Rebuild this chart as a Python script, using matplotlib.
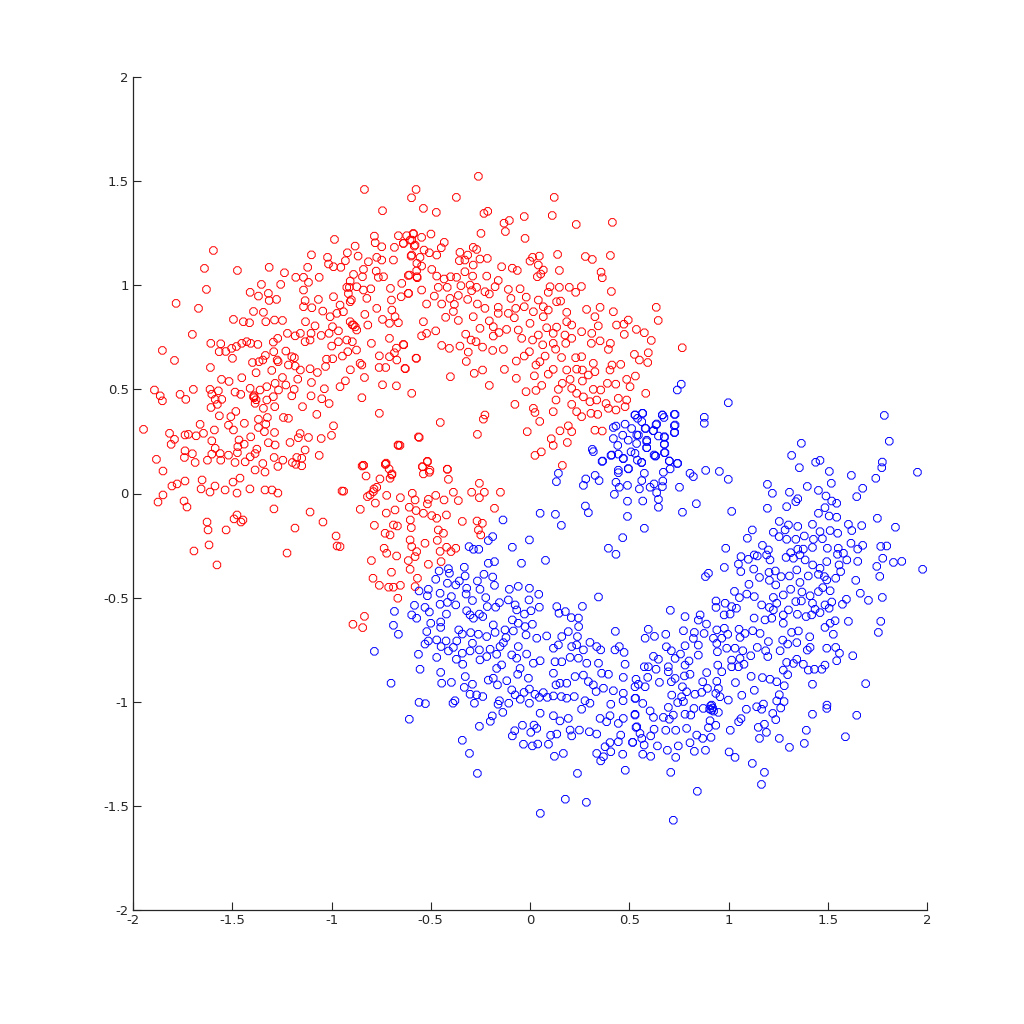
import matplotlib
matplotlib.use("Agg")
import matplotlib.pyplot as plt

red_points = [
(-.834,1.46),(-.743,1.358),(-.574,1.46),(-.597,1.42),(-1.595,1.167),(-1.64,1.081),(-1.474,1.071),(-1.314,1.086),(-1.237,1.06),(-1.63,.98),(-1.353,1.004),(-1.256,1.004),(-1.783,.913),(-1.67,.889),(-1.41,.966),(-1.368,.948),(-1.318,.961),(-1.314,.927),(-1.277,.932),(-1.393,.874),(-1.343,.87),(-1.494,.836),(-1.444,.825),(-1.413,.82),(-1.331,.825),(-1.287,.833),(-1.247,.831),(-1.701,.764),(-1.608,.721),(-1.852,.687),(-1.791,.639),(-1.566,.681),(-1.558,.719),(-1.533,.682),(-1.503,.697),(-1.479,.706),(-1.452,.721),(-1.427,.729),(-1.407,.721),(-1.371,.716),(-1.499,.649),(-1.61,.605),(-1.398,.629),(-1.365,.633),(-1.346,.641),(-1.38,.58),(-1.333,.663),(-1.291,.681),(-1.23,.684),(-1.2,.657),(-1.187,.652),(-1.274,.641),(-1.269,.633),(-1.217,.617),(-1.183,.612),(-1.157,.593),(-1.108,.599),(-1.071,.581),(-1.03,.61),(-1.025,.645),(-.994,.647),(-.945,.66),(-.918,.681),(-.874,.689),(-.856,.625),(-.847,.617),(-.905,.594),(-.834,.557),(-.743,.522),(-.673,.517),(-.628,.599),(-.727,.605),(-.76,.605),(-.759,.661),(-.708,.657),(-.683,.676),(-.671,.641),(-.673,.698),(-.636,.714),(-.572,.649),(-.708,.745),(-.799,.721),
(-1.293,.727),(-1.271,.745),(-1.222,.769),(-1.183,.757),(-1.157,.769),(-1.133,.729),(-1.108,.737),(-1.103,.769),(-1.052,.759),(-1.012,.769),(-.995,.801),(-.965,.781),(-.999,.708),(-.965,.729),(-.923,.737),(-.895,.729),(-.873,.785),(-.889,.809),(-.906,.825),(-.817,.809),(-.832,.86),(-.772,.889),(-.743,.836),(-.708,.817),(-.68,.849),(-.663,.82),(-.696,.881),(-.698,.929),(-.703,.985),(-.646,1.009),(-.612,.961),(-.649,.945),(-.738,1.041),(-.764,1.038),(-.775,1.068),(-.747,1.121),(-.772,1.134),(-.814,1.113),(-.839,1.076),(-.844,1.041),(-.889,1.052),(-.923,.99),(-.873,.993),(-.839,.977),(-.802,.983),(-.822,.937),(-.906,1.02),(-.906,.921),(-.99,.945),(-.957,.905),(-.94,.873),(-.973,.865),(-1.007,.849),(-1.044,.876),(-1.066,.932),(-1.099,.892),(-1.083,.805),(-1.131,.825),(-1.141,.897),(-1.133,.926),(-1.141,.977),(-1.116,1.014),(-1.18,1.038),(-1.141,1.038),(-1.062,1.038),(-1.12,1.086),(-1.101,1.146),(-1.02,1.134),(-1.015,1.102),(-.99,1.089),(-.953,1.086),(-.93,1.118),(-.92,1.156),(-.881,1.188),(-.866,1.14),(-.985,1.22),(-.784,1.236),(-.78,1.204),(-.747,1.185),(-.683,1.182),(-.688,1.121),(-.663,1.238),(-.638,1.201),(-.621,1.238),(-.587,1.246),(-.604,1.217),(-.579,1.193),(-.599,1.14),(-.57,1.105),(-.607,1.049),(-.57,1.041),
(-1.452,.556),(-1.516,.538),(-1.554,.548),(-1.696,.5),(-1.892,.497),(-1.863,.469),(-1.852,.445),(-1.763,.476),(-1.734,.452),(-1.612,.5),(-1.57,.493),(-1.603,.477),(-1.586,.452),(-1.553,.452),(-1.607,.413),(-1.575,.428),(-1.486,.487),(-1.457,.476),(-1.41,.505),(-1.393,.465),(-1.36,.497),(-1.326,.513),(-1.284,.529),(-1.267,.497),(-1.23,.521),(-1.188,.5),(-1.2,.469),(-1.103,.469),(-1.101,.533),(-1.036,.503),(-1.049,.455),(-1.012,.432),(-.957,.513),(-.93,.541),(-1.17,.549),(-1.247,.557),(-1.301,.591),(-1.074,.38),(-1.146,.417),(-1.286,.417),(-1.343,.409),(-1.385,.433),(-1.326,.449),(-1.293,.465),(-1.482,.394),(-1.507,.369),(-1.565,.373),(-1.368,.356),(-1.323,.365),(-1.242,.365),(-1.217,.361),(-.847,.46),(-.759,.385),(-.596,.481),(-.562,.272),(-.663,.231),(-.99,.325),(-1.0,.279),(-1.052,.264),(-1.116,.269),(-1.158,.288),(-1.167,.268),(-1.209,.245),(-1.287,.293),(-1.331,.333),(-1.368,.317),(-1.439,.337),(-1.494,.305),(-1.519,.328),(-1.59,.305),(-1.662,.332),(-1.645,.289),(-1.682,.277),(-1.721,.284),(-1.738,.281),(-1.816,.289),(-1.791,.26),(-1.808,.236),(-1.947,.308),(-1.603,.253),(-1.586,.217),(-1.466,.257),(-1.472,.225),(-1.44,.237),(-1.407,.272),(-1.376,.213),(-1.338,.297),(-1.318,.244),(-1.284,.233),(-1.133,.209),(-1.062,.183),(-1.882,.164),(-1.738,.205),(-1.741,.173),(-1.701,.191),(-1.687,.149),(-1.625,.16),(-1.603,.189),(-1.561,.192),(-1.558,.16),(-1.519,.184),(-1.486,.149),(-1.474,.196),(-1.435,.152),(-1.41,.176),(-1.385,.192),(-1.346,.144),(-1.289,.173),(-1.245,.16),(-1.197,.149),(-1.175,.173),(-1.15,.169),(-1.15,.133),(-.839,.136),(-.727,.141),
(-.26,1.523),(-.371,1.422),(.122,1.422),(-.537,1.369),(-.472,1.35),(-.232,1.345),(-.213,1.355),(-.029,1.33),(.112,1.335),(-.131,1.298),(-.104,1.311),(.233,1.292),(.415,1.302),(-.124,1.258),(-.247,1.249),(-.025,1.225),(-.588,1.249),(-.546,1.23),(-.499,1.246),(-.638,1.201),(-.596,1.217),(-.583,1.188),(-.432,1.206),(-.447,1.18),(-.286,1.182),(-.269,1.172),(-.353,1.158),(-.314,1.145),(-.534,1.169),(-.507,1.156),(-.596,1.145),(-.554,1.134),(-.47,1.145),(-.356,1.118),(-.328,1.121),(-.286,1.097),(-.252,1.126),(-.215,1.129),(-.143,1.089),(-.089,1.082),(-.064,1.071),(0,1.116),(.013,1.134),(.047,1.14),(.139,1.148),(.279,1.138),(.314,1.124),(.405,1.143),(.042,1.097),(.067,1.073),(.148,1.071),(.358,1.063),(.364,1.036),(.037,1.041),(.054,1.054),
(-.546,1.092),(-.571,1.07),(-.613,1.047),(-.568,1.036),(-.495,1.076),(-.47,1.044),(-.433,1.03),(-.4,1.041),(-.37,1.038),(-.328,1.065),(-.289,1.044),(-.218,1.044),(-.16,1.023),(-.348,.998),(-.302,1.001),(-.269,.99),(-.176,.993),(-.109,.98),(-.05,.983),(.101,.993),(.148,.99),(.198,.99),(.259,.994),(.23,.966),(.092,.966),(.41,.97),(-.019,.943),(-.096,.937),(-.205,.958),(-.227,.969),(-.294,.974),(-.361,.951),(-.403,.937),(-.482,.948),(-.462,.99),(-.417,.99),(-.546,.977),(-.613,.961),(-.445,.91),(-.521,.91),(-.314,.932),(-.265,.91),(-.381,.908),(-.386,.874),(-.425,.846),(-.361,.831),(-.227,.889),(-.16,.894),(-.16,.865),(-.109,.865),(-.072,.889),(-.029,.897),(-.079,.844),(.017,.873),(.042,.929),(.067,.897),(.134,.921),(.154,.924),(.092,.881),(.185,.87),(.285,.884),(.353,.894),(.42,.873),(.636,.894),(.646,.831),(.327,.849),(.344,.805),(.185,.825),(.21,.809),(.134,.799),(.067,.849),(.084,.796),(0,.817),(-.059,.785),(-.118,.788),(-.156,.773),(-.205,.829),(-.185,.801),(-.185,.756),(-.252,.793),(-.286,.849),(-.324,.765),(-.297,.737),(-.272,.729),(-.239,.703),(-.188,.687),(-.134,.692),(-.445,.711),(-.406,.697),(-.353,.708),(-.311,.679),(-.321,.634),(-.475,.781),(-.521,.769),(-.546,.757),(-.537,.825),(-.638,.716),(-.574,.65),(-.63,.601),(-.401,.561),(-.281,.577),(-.239,.593),(-.205,.519),(-.129,.596),(-.069,.636),(-.029,.66),(-.003,.681),(-.042,.745),(.013,.737),(.042,.761),(.064,.714),(.117,.769),(.117,.721),(.129,.693),(.176,.761),(.18,.721),(.21,.745),(.26,.777),(.311,.769),(.309,.721),(.353,.733),(.405,.721),(.395,.692),(.475,.764),(.436,.809),(.473,.813),(.495,.833),(.536,.788),(.576,.772),(.611,.735),(.767,.7),(.526,.668),(.551,.641),(.596,.676),(.593,.629),(.457,.62),(.413,.617),(.319,.625),(.23,.652),(.26,.657),(.159,.653),(.076,.66),(.05,.633),(.03,.617),(.022,.565),(-.069,.553),(.092,.573),(.117,.596),(.185,.593),(.235,.597),(.264,.593),(.327,.585),(.403,.593),(.202,.548),(.163,.529),(.264,.54),(.294,.569),(.39,.529),(.432,.525),(.487,.548),(.531,.564),(.504,.513),(.319,.5),(.356,.497),(.21,.505),(.143,.5),(.059,.519),(.03,.495),(-.02,.489),(-.076,.428),(.131,.449),(.21,.428),(.269,.464),(.336,.449),(.302,.441),(.235,.481),(.383,.432),(.445,.457),(.487,.449),(.479,.417),(.583,.481),(.395,.409),(.433,.401),(.235,.393),(.26,.369),(.307,.385),(.341,.38),(.117,.393),(.017,.409),(.025,.389),(.049,.346),(-.227,.377),(-.235,.357),(-.452,.341),(-.265,.284),(-.014,.297),(.193,.325),(.151,.301),(.21,.297),(.327,.304),(.364,.3),(.107,.263),(.188,.245),(.117,.231),(.057,.2),(.025,.183),(-.558,.269),(-.655,.231),(-.517,.152),(-.541,.128),(-.504,.112),(-.417,.117),(.163,.135),
(-.839,.135),(-.729,.14),(-.542,.129),(-.517,.155),(-.416,.116),(-.697,.089),(-.705,.073),(-.507,.102),(-.537,.094),(-.411,.068),(-.255,.049),(-.939,.011),(-.772,.03),(-.789,.009),(-.819,-.015),(-.722,-.009),(-.653,-.02),(-.593,.001),(-.579,-.031),(-.475,-.009),(-.512,-.028),(-.433,-.031),(-.386,.006),(-.361,-.034),(-.294,.006),(-.23,.006),(-.255,-.02),(-.149,.006),(-.779,-.046),(-.855,-.076),(-.724,-.094),(-.68,-.079),(-.608,-.066),(-.574,-.082),(-.517,-.05),(-.537,-.095),(-.495,-.106),(-.47,-.119),(-.421,-.103),(-.179,-.071),(-.341,-.134),(-.267,-.132),(-.24,-.143),(-.784,-.153),(-.688,-.151),(-.668,-.156),(-.603,-.127),(-.598,-.164),(-.73,-.191),(-.705,-.199),(-.462,-.175),(-.436,-.191),(-.26,-.175),(-.248,-.199),(-.604,-.223),(-.467,-.225),(-.529,-.239),(-.735,-.263),(-.722,-.287),(-.672,-.3),(-.596,-.255),(-.571,-.279),(-.579,-.303),(-.453,-.278),(-.42,-.258),(-.374,-.263),(-.398,-.279),(-.799,-.322),(-.613,-.322),(-.512,-.34),(-.448,-.327),(-.604,-.364),(-.698,-.378),(-.791,-.407),(-.759,-.441),(-.712,-.45),(-.688,-.45),(-.653,-.441),(-.567,-.407),(-.579,-.447),(-.666,-.503),(-.834,-.59),(-.892,-.628),(-.843,-.644),(-.957,-.255),
(-1.874,-.041),(-1.849,-.007),(-1.849,.108),(-1.738,.06),(-1.804,.036),(-1.778,.046),(-1.743,-.036),(-1.728,-.065),(-1.693,-.276),(-1.617,-.247),(-1.622,-.175),(-1.577,-.343),(-1.627,-.137),(-1.531,-.175),(-1.491,-.122),(-1.456,-.137),(-1.476,-.103),(-1.446,-.127),(-1.657,.022),(-1.612,.007),(-1.652,.065),(-1.587,.036),(-1.536,.017),(-1.496,.055),(-1.461,.074),(-1.411,.022),(-1.476,.002),(-1.335,.017),(-1.3,.017),(-1.27,.002),(-1.29,-.074),(-1.335,.103),(-1.385,.113),(-1.184,-.166),(-1.224,-.286),(-1.108,-.089),(-1.043,-.137),(-.977,-.204),(-.972,-.252),(-.947,.012),(-1.18,.14),(-1.27,.13),(-.846,.132),(-.725,.146),(-.71,.118),(-.665,.233),(-.756,.07),(-.826,.084),(-.786,.022),(-.806,-.007),(-.695,.094),
(-.91,.99),(-.915,.96),(-.9,.93),(-.895,.81),(-.88,.8),(-1.39,.46),(-1.39,.47),(-1.38,.45),
]

blue_points = [
(-.784,-.758),(-.688,-.633),(-.663,-.676),(-.683,-.566),(-.582,-.537),(-.596,-.583),(-.571,-.599),(-.559,-.468),(-.512,-.46),(-.517,-.491),(-.475,-.412),(-.458,-.372),(-.411,-.361),(-.406,-.383),(-.453,-.479),(-.416,-.431),(-.374,-.439),(-.396,-.495),(-.416,-.523),(-.374,-.535),(-.453,-.532),(-.529,-.547),(-.507,-.569),(-.421,-.579),(-.5,-.623),(-.45,-.617),(-.45,-.643),(-.52,-.663),(-.554,-.844),(-.562,-.772),(-.7,-.911),(-.559,-1.003),(-.527,-1.009),(-.608,-1.084),(-.512,-.708),(-.529,-.723),(-.47,-.703),(-.448,-.735),(-.423,-.708),(-.369,-.708),(-.411,-.756),(-.386,-.739),(-.47,-.787),(-.371,-.796),(-.341,-.767),(-.339,-.82),(-.45,-.859),(-.445,-.911),(-.396,-.907),(-.326,-.879),(-.331,-.931),(-.29,-.916),(-.302,-.964),(-.269,-.967),(-.238,-.975),(-.28,-1.007),(-.378,-.995),(-.388,-1.007),(-.341,-1.185),(-.305,-1.248),(-.265,-1.344),(-.255,-1.118),(-.2,-1.094),(-.19,-1.068),(-.137,-1.051),(-.161,-1.012),(-.107,-1.007),(-.154,-.995),(-.21,-.896),(-.185,-.887),(-.164,-.919),(-.117,-.899),(-.092,-.943),(-.075,-.967),(-.049,-.988),(-.003,-1.007),(-.03,-.955),(-.003,-.939),(.025,-.964),(.047,-.979),(.067,-.956),(.087,-.979),(.118,-.972),(.158,-.975),(.185,-.983),(.223,-.975),(.277,-.995),(.302,-1.007),(.333,-.951),(.37,-.935),(.407,-1.012),(.47,-.959),(.469,-.995),(.532,-.983),(.529,-.928),(.47,-.883),(.42,-.947),(.26,-1.036),(.051,-1.055),(.118,-1.067),(.151,-1.092),(.193,-1.08),(.202,-1.136),(.249,-1.136),(.299,-1.144),(.336,-1.155),(.353,-1.08),(.386,-1.096),(.403,-1.067),(.445,-1.104),(.47,-1.08),(.529,-1.064),(.538,-1.12),(.457,-1.16),(.445,-1.192),(.517,-1.195),(.403,-1.196),(.378,-1.216),(.407,-1.24),(.336,-1.248),(.37,-1.264),(.356,-1.284),(.467,-1.252),(.48,-1.329),(.239,-1.344),(.168,-1.248),(.123,-1.262),(.093,-1.204),(.135,-1.155),(.104,-1.161),(.21,-1.164),(.039,-1.203),(.012,-1.212),(-.033,-1.204),(.004,-1.147),(.034,-1.128),(.02,-1.112),(-.038,-1.113),(-.077,-1.139),(-.089,-1.164),(.178,-1.468),(.284,-1.483),(.052,-1.536),
(-.331,-.354),(-.327,-.396),(-.356,-.42),(-.319,-.455),(-.322,-.483),(-.29,-.514),(-.265,-.42),(-.252,-.46),(-.232,-.388),(-.188,-.401),(-.179,-.441),(-.21,-.335),(-.179,-.327),(-.223,-.5),(-.215,-.543),(-.319,-.563),(-.302,-.583),(-.285,-.599),(-.255,-.579),(-.238,-.591),(-.173,-.546),(-.154,-.524),(-.104,-.46),(-.059,-.446),(-.003,-.455),(.044,-.484),(-.005,-.511),(-.109,-.511),(-.075,-.535),(-.067,-.559),(-.028,-.579),(.005,-.563),(.047,-.546),(-.089,-.607),(-.059,-.623),(.012,-.628),(-.025,-.639),(-.185,-.631),(-.176,-.667),(-.359,-.655),(-.341,-.675),(-.299,-.668),(-.26,-.676),(-.218,-.687),(-.126,-.655),(-.084,-.66),(-.121,-.692),(-.134,-.716),(-.151,-.735),(-.29,-.719),(-.302,-.756),(-.255,-.751),(-.201,-.748),(-.168,-.772),(-.092,-.775),(-.059,-.735),(-.02,-.679),(.034,-.695),(.084,-.684),(-.252,-.799),(-.218,-.783),(-.143,-.823),(-.168,-.84),(-.067,-.791),(-.05,-.84),(-.062,-.868),(-.017,-.771),(-.008,-.887),(.017,-.815),(.051,-.803),(.118,-.743),(.126,-.808),(.118,-.863),(.131,-.919),(.151,-.911),(.185,-.911),(.16,-.808),(.143,-.727),(.16,-.687),(.193,-.663),(.239,-.687),(.235,-.727),(.21,-.735),(.202,-.787),(.244,-.791),(.286,-.815),(.269,-.751),(.302,-.715),(.336,-.735),(.356,-.751),(.345,-.815),(.227,-.879),(.269,-.872),(.294,-.903),(.319,-.919),(.361,-.863),(.395,-.868),(.479,-.82),(.428,-.751),(.45,-.735),(.474,-.763),(.43,-.662),(.264,-.542),(.345,-.497),(.135,-.543),(.146,-.575),(.178,-.567),(.208,-.596),(.244,-.598),(.245,-.639),(-.003,-.223),(-.089,-.258),(-.043,-.335),(.078,-.321),(-.136,-.127),(-.21,-.226),(-.188,-.207),(-.307,-.255),(-.285,-.268),(-.258,-.268),(.051,-.095),(.128,-.1),(.158,-.153),(.467,-.212),(.395,-.263),(.433,-.292),(.491,-.11),(.491,-.037),(.294,-.092),(.279,-.06),(.143,.097),(.133,.057),(.269,.039),(.281,.07),(.328,.087),(.348,.062),(.433,.054),(.45,.03),(.425,-.004),(.491,.039),(.445,.1),(.366,.156),(.412,.185),(.47,.169),(.319,.201),(.496,.118),
(.999,.436),(1.785,.375),(1.81,.251),(1.367,.241),(1.318,.183),(1.439,.15),(1.461,.159),(1.357,.124),(1.508,.106),(1.619,.087),(1.742,.073),(1.772,.124),(1.775,.151),(1.952,.102),(.529,.377),(.568,.385),(.667,.377),(.731,.38),(.878,.366),(.878,.337),(.731,.329),(.729,.294),(.638,.334),(.563,.345),(.622,.302),(.58,.313),(.647,.276),(.677,.273),(.677,.236),(.588,.249),(.588,.22),(.538,.281),(.63,.18),(.677,.196),(.563,.15),(.529,.193),(.702,.156),(.744,.145),(.706,.118),(.672,.102),(.576,.097),(.563,.062),(.806,.097),(.823,.081),(.885,.111),(.954,.106),(.999,.068),(.753,.03),(.669,.06),(.667,.033),(.625,.046),(.605,.03),(.638,.004),(.551,.022),(.568,-.036),(.647,-.028),(.647,-.066),(.768,-.09),(.838,-.049),(1.016,-.086),(.576,-.167),
(1.196,.044),(1.221,.001),(1.307,.006),(1.339,-.039),(1.349,-.025),(1.397,.034),(1.453,.015),(1.518,.049),(1.491,-.012),(1.52,-.036),(1.545,-.047),(1.486,-.068),(1.453,-.095),(1.507,-.108),(1.545,-.114),(1.676,.025),(1.646,-.015),(1.75,-.119),(1.841,-.162),(1.671,-.154),(1.604,-.148),(1.621,-.178),(1.55,-.191),(1.512,-.178),(1.461,-.183),(1.423,-.148),(1.349,-.158),(1.302,-.151),(1.293,-.063),(1.196,-.071),(1.256,-.134),(1.285,-.175),(1.226,-.186),(1.12,-.175),(1.095,-.215),(1.255,-.207),(1.293,-.22),(1.339,-.22),(1.382,-.204),(1.428,-.22),(1.473,-.217),(1.423,-.259),(1.377,-.267),(1.498,-.263),(1.553,-.263),(1.617,-.239),(1.676,-.249),(1.651,-.267),(1.767,-.254),(1.797,-.252),(1.777,-.311),(1.831,-.331),(1.873,-.326),(1.978,-.364),(1.747,-.35),(1.762,-.398),(1.651,-.326),(1.596,-.319),(1.579,-.287),(1.549,-.292),(1.495,-.327),(1.557,-.343),(1.565,-.375),(1.54,-.407),(1.641,-.417),(1.664,-.479),(1.705,-.513),(1.775,-.499),(1.594,-.508),(1.574,-.532),(1.604,-.614),(1.767,-.614),(1.755,-.667),(1.537,-.611),(1.512,-.623),(1.486,-.643),(1.528,-.676),(1.495,-.743),(1.54,-.739),(1.559,-.767),(1.545,-.803),(1.626,-.779),(1.691,-.913),(1.423,-.916),(1.47,-.844),(1.486,-.824),(1.433,-.844),(1.402,-.848),(1.377,-.82),(1.344,-.796),(1.327,-.816),(1.293,-.811),(1.276,-.848),(1.298,-.87),(1.281,-.923),(1.243,-.904),(1.209,-.892),(1.171,-.884),(1.114,-.878),(1.13,-.945),(1.035,-.908),(1.067,-.969),(.999,-.992),(.957,-.976),(1.256,-.966),(1.243,-.996),(1.28,-.999),(1.263,-1.03),(1.223,-1.056),(1.238,-1.086),(1.176,-1.011),(1.142,-1.024),(1.167,-1.036),(1.09,-1.036),(1.063,-1.081),(1.051,-1.096),(1.009,-1.137),(1.15,-1.123),(1.181,-1.108),(1.191,-1.147),(1.156,-1.176),(1.256,-1.176),(1.392,-1.137),(1.382,-1.2),(1.307,-1.219),(1.423,-1.06),(1.496,-1.016),(1.495,-1.032),(1.646,-1.065),(1.589,-1.168),(1.12,-1.296),(1.181,-1.339),(1.166,-1.397),(1.003,-1.241),(1.033,-1.267),(.884,-1.233),(.828,-1.238),(.806,-1.197),(.734,-1.267),(.747,-1.212),(.692,-1.233),(.642,-1.212),(.608,-1.262),(.568,-1.252),(.709,-1.339),(.843,-1.43),(.722,-1.569),(.517,-1.195),(.575,-1.208),(.563,-1.176),(.608,-1.164),(.554,-1.152),(.625,-1.132),(.534,-1.123),(.684,-1.137),(.734,-1.137),(.789,-1.128),(.84,-1.16),(.87,-1.176),(.912,-1.171),(.899,-1.124),(.936,-1.113),(.907,-1.091),(.781,-1.06),(.722,-1.064),(.672,-1.075),(.702,-1.084),(.622,-1.075),(.605,-1.044),(.529,-1.06),(.697,-1.027),(.81,-1.064),(.826,-1.032),(.873,-1.032),(.915,-1.04),(.949,-1.051),(.915,-1.016),(.773,-.999),(.744,-1.004),(.764,-.976),(.568,-1.008),(.529,-.984),(.714,-.968),(.789,-.952),(.831,-.964),(.865,-.955),(.894,-.936),(.936,-.96),(.949,-.936),(.768,-.928),(.712,-.904),(.652,-.907),(.534,-.892),(.58,-.928),(.546,-.916),(.593,-.883),(.635,-.844),(.576,-.832),(.622,-.782),(.647,-.796),(.596,-.832),(.697,-.832),(.697,-.856),(.731,-.888),(.778,-.876),(.806,-.868),(.89,-.86),(.941,-.902),(.87,-.904),(.946,-.824),(.966,-.856),(1.016,-.832),(1.05,-.832),(1.078,-.82),(1.016,-.8),(1.058,-.792),(1.112,-.779),(.944,-.76),
(.758,-.771),(.712,-.755),(.687,-.736),(.731,-.792),(.801,-.804),(.781,-.824),(.781,-.731),(.823,-.696),(.848,-.728),(.848,-.776),(.684,-.676),(.627,-.686),(.58,-.695),(.596,-.652),(.773,-.659),(.828,-.667),(.877,-.672),(.889,-.627),(.848,-.608),(.857,-.583),(.781,-.591),(.707,-.561),(.937,-.547),(.937,-.516),(.983,-.527),(.978,-.583),(1.008,-.579),(1.016,-.543),(1.04,-.551),(1.03,-.47),(1.055,-.5),(1.092,-.483),(1.13,-.495),(1.103,-.436),(1.156,-.403),(1.206,-.417),(1.238,-.439),(1.204,-.379),(1.236,-.372),(1.127,-.363),(1.062,-.375),(1.05,-.339),(.979,-.355),(.899,-.383),(.884,-.399),(.986,-.263),(1.063,-.303),(1.1,-.316),(1.13,-.295),(1.145,-.3),(1.171,-.249),(1.201,-.271),(1.192,-.295),(1.209,-.319),(1.29,-.307),(1.313,-.284),(1.327,-.311),(1.349,-.268),(1.36,-.295),(1.386,-.319),(1.265,-.399),(1.307,-.396),(1.344,-.367),(1.36,-.427),(1.402,-.396),(1.424,-.343),(1.461,-.359),(1.453,-.388),(1.483,-.399),(1.495,-.415),(1.475,-.452),(1.512,-.467),(1.453,-.471),(1.411,-.491),(1.37,-.473),(1.313,-.46),(1.276,-.487),(1.226,-.499),(1.243,-.527),(1.339,-.519),(1.367,-.516),(1.423,-.527),(1.486,-.535),(1.52,-.521),(1.507,-.551),(1.461,-.572),(1.436,-.556),(1.419,-.583),(1.391,-.591),(1.347,-.58),(1.302,-.559),(1.276,-.583),(1.226,-.559),(1.206,-.547),(1.167,-.535),(1.129,-.598),(1.184,-.607),(1.218,-.599),(1.276,-.623),(1.318,-.667),(1.352,-.66),(1.409,-.688),(1.397,-.752),(1.411,-.739),(1.344,-.716),(1.298,-.723),(1.273,-.704),(1.26,-.755),(1.201,-.711),(1.159,-.672),(1.122,-.659),(1.083,-.672),(1.053,-.652),(1.058,-.691),(.996,-.676),(.979,-.647),(.941,-.655),(.924,-.695),(.966,-.695),(.941,-.72),(.991,-.743),(1.033,-.743),(1.072,-.755),(1.145,-.739),(1.187,-.755),(1.198,-.783),
(.762,.525),(.742,.497),(.566,.385),(.529,.377),(.542,.361),(.667,.377),(.675,.365),(.727,.38),(.727,.325),(.727,.292),(.433,.324),(.42,.317),(.467,.28),(.479,.333),(.512,.312),(.42,.264),(.495,.256),(.546,.28),(.583,.312),(.635,.33),(.621,.301),(.677,.269),(.677,.237),(.442,.231),(.537,.24),(.588,.256),(.588,.22),(.509,.2),(.408,.183),(.445,.189),(.47,.167),(.363,.154),(.314,.212),(.541,.16),(.562,.148),(.633,.18),(.68,.196),(.702,.156),(.742,.144),(.495,.12),(.445,.112),
(.91,-1.02),(.92,-1.03),(.905,-1.035),(.925,-1.045),(.625,.185),
]

x_ticks = [-2, -1.5, -1, -0.5, 0, 0.5, 1, 1.5, 2]
y_ticks = [-2, -1.5, -1, -0.5, 0, 0.5, 1, 1.5, 2]
x_tick_labels = ["-2", "-1.5", "-1", "-0.5", "0", "0.5", "1", "1.5", "2"]
y_tick_labels = ["-2", "-1.5", "-1", "-0.5", "0", "0.5", "1", "1.5", "2"]

red_x = [p[0] for p in red_points]
red_y = [p[1] for p in red_points]
blue_x = [p[0] for p in blue_points]
blue_y = [p[1] for p in blue_points]

plt.rcParams["axes.unicode_minus"] = False
plt.rcParams["font.family"] = "DejaVu Sans"

fig = plt.figure(figsize=(10.24, 10.24), dpi=100)
ax = fig.add_axes([133/1024, 1 - 910/1024, 794/1024, 833/1024])
for xs, ys, col in ((red_x, red_y, "#ff0000"), (blue_x, blue_y, "#0000ff")):
    ax.scatter(xs, ys, s=34, marker="8", facecolors="none", edgecolors=col,
               linewidths=0.7, clip_on=False)
ax.set_xlim(-2, 2)
ax.set_ylim(-2, 2)
ax.set_xticks(x_ticks, x_tick_labels)
ax.set_yticks(y_ticks, y_tick_labels)
ax.spines["top"].set_visible(False)
ax.spines["right"].set_visible(False)
for s in ("left", "bottom"):
    ax.spines[s].set_linewidth(0.9)
    ax.spines[s].set_color("#262626")
ax.tick_params(direction="in", length=6, width=0.8, color="#262626", labelcolor="#262626", labelsize=9.5, pad=3)
fig.savefig("out.png", dpi=100)
